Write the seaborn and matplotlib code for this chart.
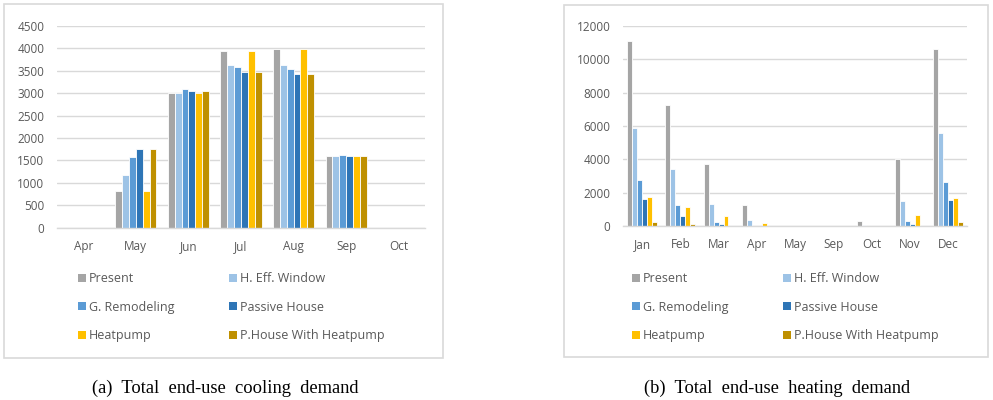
import matplotlib
matplotlib.use("Agg")
import matplotlib.pyplot as plt
import matplotlib.patches as mpatches
import seaborn as sns
import pandas as pd

scenarios = ["Present", "H. Eff. Window", "G. Remodeling", "Passive House",
             "Heatpump", "P.House With Heatpump"]
colors = ["#A5A5A5", "#9DC3E6", "#5B9BD5", "#2E75B6", "#FFC000", "#BF9000"]

cool_months = ["Apr", "May", "Jun", "Jul", "Aug", "Sep", "Oct"]
cool_present = [0, 810, 3010, 3940, 3995, 1595, 0]
cool_window = [0, 1180, 3010, 3630, 3630, 1590, 0]
cool_remodel = [0, 1580, 3095, 3585, 3545, 1625, 0]
cool_passive = [0, 1745, 3045, 3480, 3420, 1600, 0]
cool_heatpump = [0, 810, 3000, 3940, 3995, 1595, 0]
cool_phhp = [0, 1745, 3045, 3480, 3420, 1605, 0]

heat_months = ["Jan", "Feb", "Mar", "Apr", "May", "Sep", "Oct", "Nov", "Dec"]
heat_present = [11100, 7260, 3740, 1260, 0, 0, 300, 4020, 10600]
heat_window = [5900, 3420, 1320, 360, 0, 0, 40, 1520, 5560]
heat_remodel = [2760, 1240, 260, 20, 0, 0, 10, 320, 2660]
heat_passive = [1620, 600, 100, 0, 0, 0, 5, 100, 1540]
heat_heatpump = [1760, 1160, 600, 180, 0, 0, 10, 660, 1700]
heat_phhp = [260, 100, 0, 0, 0, 0, 0, 0, 260]


def long_df(months, series):
    rows = []
    for name, vals in zip(scenarios, series):
        for m, v in zip(months, vals):
            rows.append({"month": m, "scenario": name, "value": v})
    return pd.DataFrame(rows)


cool_df = long_df(cool_months, [cool_present, cool_window, cool_remodel,
                                cool_passive, cool_heatpump, cool_phhp])
heat_df = long_df(heat_months, [heat_present, heat_window, heat_remodel,
                                heat_passive, heat_heatpump, heat_phhp])

sns.set_theme(style="white")
plt.rcParams["font.family"] = ["Open Sans", "DejaVu Sans"]

W, H = 993, 400
fig = plt.figure(figsize=(W / 100, H / 100), dpi=100)
fig.patch.set_facecolor("white")


def fr(x0, y0, x1, y1):
    # pixel box (top-left origin) -> figure fraction rect
    return [x0 / W, 1 - y1 / H, (x1 - x0) / W, (y1 - y0) / H]


# chart area frames
for (x0, y0, x1, y1) in [(4, 4, 443, 358), (564, 5, 988, 357)]:
    r = fr(x0, y0, x1, y1)
    fig.patches.append(mpatches.Rectangle((r[0], r[1]), r[2], r[3],
                                          transform=fig.transFigure,
                                          fill=False, edgecolor="#D9D9D9",
                                          linewidth=1.2))

ax1 = fig.add_axes(fr(57, 26, 425, 227.7))
ax2 = fig.add_axes(fr(623, 26, 967, 226))

palette = dict(zip(scenarios, colors))

for ax, df, months, ymax, step in [
    (ax1, cool_df, cool_months, 4500, 500),
    (ax2, heat_df, heat_months, 12000, 2000),
]:
    sns.barplot(data=df, x="month", y="value", hue="scenario",
                order=months, hue_order=scenarios, palette=palette,
                width=0.78, edgecolor="white", linewidth=0.6,
                saturation=1, ax=ax, legend=False, errorbar=None)
    ax.set_ylim(0, ymax)
    ax.set_xlim(-0.5, len(months) - 0.5)
    ax.set_yticks(range(0, ymax + 1, step))
    ax.yaxis.grid(True, color="#D9D9D9", linewidth=1.0)
    ax.set_axisbelow(True)
    for s in ["top", "right", "left"]:
        ax.spines[s].set_visible(False)
    ax.spines["bottom"].set_color("#D9D9D9")
    ax.spines["bottom"].set_linewidth(1.0)
    ax.set_xlabel("")
    ax.set_ylabel("")
    ax.tick_params(axis="both", length=0, labelsize=8.5, colors="#595959")
    ax.tick_params(axis="y", pad=9)
    ax.tick_params(axis="x", pad=9)
    ax.set_facecolor("white")

# legends
order = [0, 2, 4, 1, 3, 5]
handles = [mpatches.Patch(facecolor=colors[i], edgecolor="none") for i in order]
labels = [scenarios[i] for i in order]
for x_anchor in [78 / W, 632 / W]:
    fig.legend(handles, labels, ncol=2, loc="upper left",
               bbox_to_anchor=(x_anchor, 1 - 272 / H), frameon=False,
               fontsize=9, labelcolor="#595959", handlelength=0.6,
               handleheight=0.6, handletextpad=0.25, columnspacing=4.4,
               labelspacing=1.25, borderpad=0, borderaxespad=0)

# captions
for cx, text in [(225, "(a)  Total  end-use  cooling  demand"),
                 (777, "(b)  Total  end-use  heating  demand")]:
    fig.text(cx / W, 1 - 388 / H, text, ha="center", va="center",
             fontsize=13.3, family="Liberation Serif", color="black")

fig.savefig("out.png", dpi=100)
